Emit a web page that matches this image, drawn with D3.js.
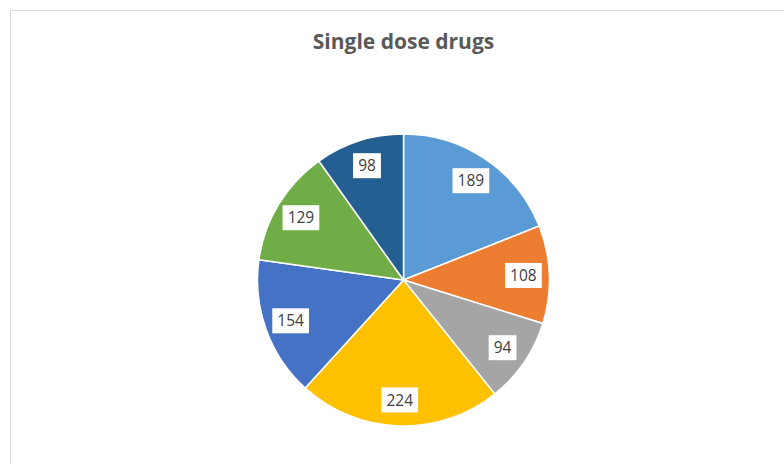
<!DOCTYPE html>
<html>
<head>
<meta charset="utf-8">
<script src="https://cdn.jsdelivr.net/npm/d3@7"></script>
<style>
  html, body { margin: 0; padding: 0; background: #fff; }
  svg { display: block; }
</style>
</head>
<body>
<script>
const w = 784;
const h = 464;

// data (clockwise from 12 o'clock)
const categories = ['1', '2', '3', '4', '5', '6', '7'];
const values = [189, 108, 94, 224, 154, 129, 98];
const colors = ['#5B9BD5', '#ED7D31', '#A5A5A5', '#FFC000', '#4472C4', '#70AD47', '#255E91'];

const cx = 403.5;
const cy = 280;
const r = 146;
const labelR = 120;

const svg = d3.select('body').append('svg')
  .attr('width', w)
  .attr('height', h);

// chart area border (runs off the right and bottom edge)
svg.append('rect')
  .attr('x', 10.5)
  .attr('y', 10.5)
  .attr('width', w + 20)
  .attr('height', h + 20)
  .attr('fill', '#fff')
  .attr('stroke', '#d9d9d9')
  .attr('stroke-width', 1);

svg.append('text')
  .attr('x', cx)
  .attr('y', 49)
  .attr('text-anchor', 'middle')
  .style('font-family', '"Open Sans", sans-serif')
  .style('font-weight', 'bold')
  .style('font-size', '21px')
  .attr('fill', '#595959')
  .text('Single dose drugs');

const pie = d3.pie().sort(null).value((d) => d.value);
const arcs = pie(categories.map((c, i) => ({ name: c, value: values[i] })));

const arc = d3.arc().innerRadius(0).outerRadius(r);
const labelArc = d3.arc().innerRadius(labelR).outerRadius(labelR);

const g = svg.append('g')
  .attr('transform', `translate(${cx}, ${cy})`);

g.selectAll('path')
  .data(arcs)
  .enter()
  .append('path')
  .attr('d', arc)
  .attr('fill', (d, i) => colors[i])
  .attr('stroke', '#fff')
  .attr('stroke-width', 1.5)
  .attr('stroke-linejoin', 'round');

const labels = g.selectAll('g.label')
  .data(arcs)
  .enter()
  .append('g')
  .attr('class', 'label')
  .attr('transform', (d) => `translate(${labelArc.centroid(d)})`);

labels.append('rect')
  .attr('fill', '#fff');

labels.append('text')
  .attr('text-anchor', 'middle')
  .attr('dy', '0.36em')
  .style('font-family', '"Open Sans", sans-serif')
  .style('font-size', '15.5px')
  .attr('fill', '#404040')
  .text((d) => d.data.value);

labels.each(function () {
  const t = d3.select(this).select('text').node().getBBox();
  d3.select(this).select('rect')
    .attr('x', -t.width / 2 - 5)
    .attr('y', -12.5)
    .attr('width', t.width + 10)
    .attr('height', 25);
});
</script>
</body>
</html>
